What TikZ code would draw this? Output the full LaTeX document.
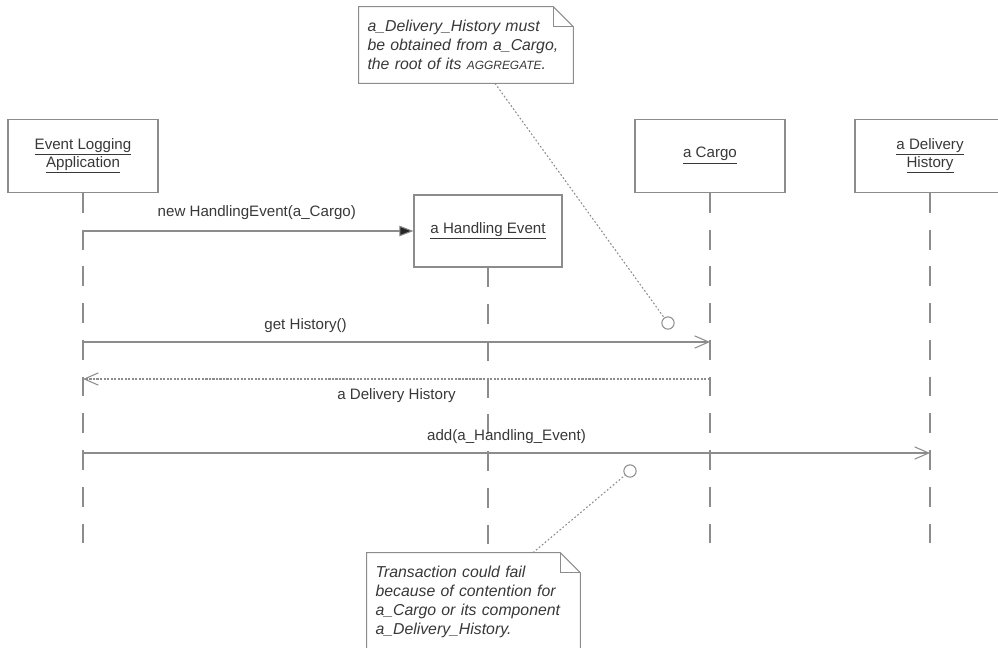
\documentclass[tikz,border=0pt]{standalone}
\usepackage{fontspec}
\setmainfont{Liberation Sans}
\usetikzlibrary{arrows.meta}

\begin{document}
\begin{tikzpicture}[x=0.02cm, y=-0.02cm, font=\fontsize{8.6}{10.3}\selectfont]
	
	% ---- Adjustable colors ----
	\def\lineColor{black!45}
	\def\textColor{black!78}
	
	\tikzset{
		obj/.style={draw=\lineColor, text=\textColor, align=center, line width=0.6pt, minimum width=3cm, minimum height=1.46cm, inner sep=2pt},
		lifeline/.style={draw=\lineColor, line width=0.6pt, dash pattern=on 11.3pt off 9.6pt},
		call/.style={draw=\lineColor, line width=0.6pt, -{Triangle[length=8pt, width=6pt, fill=black!85]}},
		send/.style={draw=\lineColor, line width=0.6pt, -{Straight Barb[length=8pt, width=7pt]}},
		reply/.style={send, dash pattern=on 1.2pt off 0.8pt},
		note/.style={text=\textColor, align=left, inner xsep=0.17cm, font=\fontsize{9}{10.8}\selectfont\itshape},
		noteline/.style={draw=\lineColor, line width=0.6pt},
		anchorline/.style={draw=\lineColor, line width=0.6pt, dash pattern=on 1pt off 1.2pt},
		pinhole/.style={draw=\lineColor, line width=0.6pt, circle, fill=white, inner sep=0pt, minimum size=7pt},
		msglabel/.style={text=\textColor, inner sep=3pt}
	}
	
	\useasboundingbox (0,0) rectangle (998,647);
	
	% ---- Lifeline heads ----
	\node[obj] (app) at (83,156) {\underline{Event Logging}\\\underline{Application}};
	\node[obj] (cargo) at (710,156) {\underline{a Cargo}};
	\node[obj] (hist) at (930,156) {\underline{a Delivery}\\\underline{History}};
	\node[obj, minimum width=2.96cm, minimum height=1.44cm] (event) at (488,231) {\underline{a Handling Event}};
	
	% ---- Lifelines ----
	\foreach \obj/\x in {app/83, event/488, cargo/710, hist/930}
	{
		\coordinate (\obj end) at (\x,545);
		\draw[lifeline] (\obj.south) -- (\obj end);
	}
	
	% ---- Messages ----
	\coordinate (getY) at (0,342);
	\coordinate (backY) at (0,379);
	\coordinate (addY) at (0,453);
	\draw[call] (app |- event) -- node[msglabel, above, pos=0.526, yshift=3pt] {new HandlingEvent(a\_Cargo)} (event.west);
	\draw[send] (app |- getY) -- node[msglabel, above, pos=0.355, yshift=2pt] {get History()} (cargo |- getY);
	\draw[reply] (cargo |- backY) -- node[msglabel, below, yshift=-2pt] {a Delivery History} (app |- backY);
	\draw[send] (app |- addY) -- node[msglabel, above, pos=0.5, yshift=2pt] {add(a\_Handling\_Event)} (hist |- addY);
	
	% ---- Notes ----
	\node[note, minimum width=4.28cm, minimum height=1.52cm, text width=3.94cm] (noteTop) at (466,45)
	{a\_Delivery\_History must\\be obtained from a\_Cargo,\\the root of its {\fontsize{6.8}{8}\selectfont AGGREGATE}.};
	\node[note, minimum width=4.26cm, minimum height=1.94cm, text width=3.92cm] (noteBot) at (473.5,601.5)
	{Transaction could fail\\because of contention for\\a\_Cargo or its component\\a\_Delivery\_History.};
	\foreach \n in {noteTop, noteBot}
	{
		\draw[noteline] (\n.north west) -- ([xshift=-0.4cm]\n.north east) -- ([yshift=-0.4cm]\n.north east) -- (\n.south east) -- (\n.south west) -- cycle;
		\draw[noteline] ([xshift=-0.4cm]\n.north east) |- ([yshift=-0.4cm]\n.north east);
	}
	
	% ---- Note anchors ----
	\node[pinhole] (pinTop) at (668,323) {};
	\node[pinhole] (pinBot) at (630,471) {};
	\draw[anchorline] ([xshift=0.58cm]noteTop.south) -- (pinTop);
	\draw[anchorline] ([xshift=1.19cm]noteBot.north) -- (pinBot);
	
\end{tikzpicture}
\end{document}
